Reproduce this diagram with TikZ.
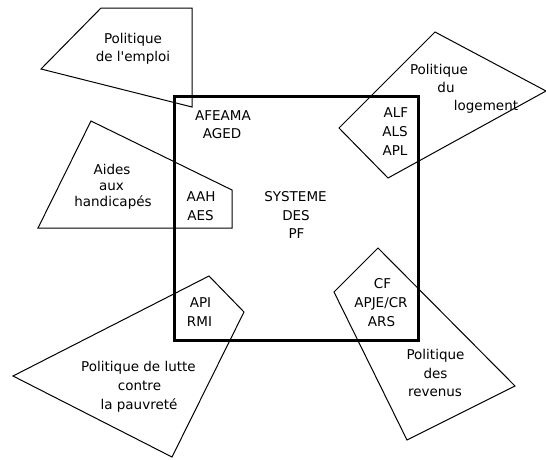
\documentclass[tikz,border=0pt]{standalone}
\usepackage{fontspec}
\newfontfamily\genfont{DejaVu Sans}
\begin{document}
\begin{tikzpicture}[x=1pt,y=-1pt,
  poly/.style={draw=black,line width=1pt,line join=miter},
  sq/.style={draw=black,line width=3pt},
  lbl/.style={font=\genfont\fontsize{13.5}{18.5}\selectfont,inner sep=0pt,anchor=base,text=black}]
\useasboundingbox (0,0) rectangle (546,459);
% main square
\draw[sq] (174,96) rectangle (418,340);
% policy polygons
\draw[poly] (41,69) -- (101,8) -- (192,8) -- (192,107) -- cycle;
\draw[poly] (435,32) -- (546,91) -- (388,178) -- (339,128) -- cycle;
\draw[poly] (91,121) -- (232,190) -- (232,228) -- (38,228) -- cycle;
\draw[poly] (209,276) -- (244,312) -- (172,457) -- (13,376) -- cycle;
\draw[poly] (378,248) -- (515,386) -- (407,440) -- (334,292) -- cycle;
% emploi
\node[lbl] (e1) at (133,43) {Politique};
\node[lbl] (e2) at (133,61.5) {de l'emploi};
\node[lbl] (a1) at (223,120) {AFEAMA};
\node[lbl] (a2) at (222,138.5) {AGED};
% logement
\node[lbl] (l1) at (439,74.5) {Politique};
\node[lbl] (l2) at (446,92.5) {du};
\node[lbl] (l3) at (486,110.5) {logement};
\node[lbl] (b1) at (396,117.5) {ALF};
\node[lbl] (b2) at (395,136.5) {ALS};
\node[lbl] (b3) at (395,155) {APL};
% handicapes
\node[lbl] (h1) at (112,174.5) {Aides};
\node[lbl] (h2) at (111.5,190.5) {aux};
\node[lbl] (h3) at (113,206.5) {handicapés};
\node[lbl] (c1) at (201,201.5) {AAH};
\node[lbl] (c2) at (200.5,220) {AES};
% centre
\node[lbl] (s1) at (295.5,201) {SYSTEME};
\node[lbl] (s2) at (296,220) {DES};
\node[lbl] (s3) at (296.5,238.5) {PF};
% pauvrete
\node[lbl] (d1) at (200.5,307) {API};
\node[lbl] (d2) at (199.5,326) {RMI};
\node[lbl] (p1) at (138.5,371.5) {Politique de lutte};
\node[lbl] (p2) at (139.5,390.5) {contre};
\node[lbl] (p3) at (139,409) {la pauvreté};
% revenus
\node[lbl] (f1) at (382.5,288.5) {CF};
\node[lbl] (f2) at (381,307.5) {APJE/CR};
\node[lbl] (f3) at (381.5,326) {ARS};
\node[lbl] (r1) at (435.5,359.5) {Politique};
\node[lbl] (r2) at (435.5,378) {des};
\node[lbl] (r3) at (435,396.5) {revenus};
\end{tikzpicture}
\end{document}
